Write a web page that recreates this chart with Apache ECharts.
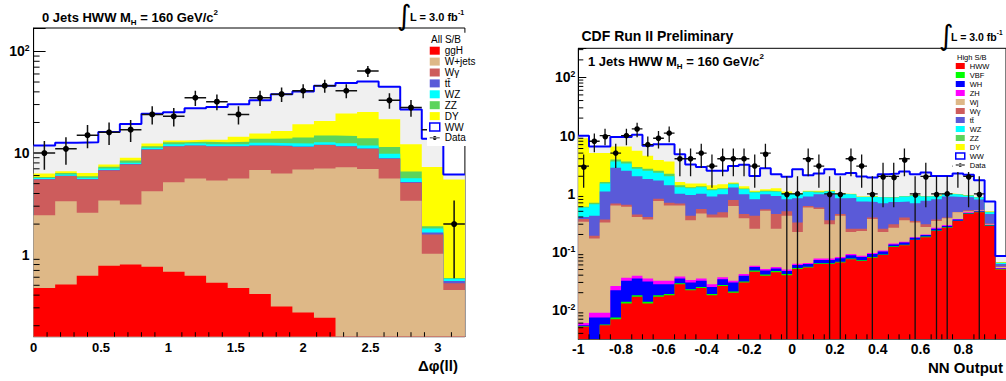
<!DOCTYPE html>
<html><head><meta charset="utf-8">
<script src="https://cdn.jsdelivr.net/npm/echarts@6.0.0/dist/echarts.min.js"></script>
<style>html,body{margin:0;padding:0;background:#fff;}#chart{width:1006px;height:381px;}</style>
</head><body><div id="chart"></div>
<script>
// ---------------- LEFT PANEL: 0 Jets, delta phi(ll) ----------------
const leftEdges = [0,0.16,0.32,0.48,0.64,0.8,0.96,1.12,1.28,1.44,1.6,1.76,1.92,2.08,2.24,2.4,2.56,2.72,2.88,3.04,3.2];
const L_ggH   = [0.47,0.51,0.62,0.78,0.80,0.76,0.68,0.62,0.53,0.47,0.41,0.31,0.27,0.24,0.12,0.10,0.08,0.05,0.02,0.01];
const L_Wjets = [1.97,2.85,1.96,2.63,2.31,3.46,4.49,5.00,4.84,5.15,6.39,5.99,6.63,6.82,7.15,6.85,5.54,3.35,1.00,0.44];
const L_Wg    = [3.06,2.57,2.92,3.33,4.62,6.58,6.43,6.18,6.23,5.98,5.00,5.40,4.60,4.94,4.33,4.05,3.18,1.70,0.56,0.075];
const L_tt    = [0.05,0.05,0.05,0.06,0.07,0.1,0.1,0.1,0.1,0.1,0.1,0.1,0.1,0.1,0.1,0.1,0.1,0.1,0.07,0.025];
const L_WZ    = [0.12,0.17,0.15,0.25,0.25,0.4,0.5,0.5,0.5,0.5,0.7,0.7,0.8,0.7,0.8,0.8,0.94,0.45,0.16,0.03];
const L_ZZ    = [0.15,0.2,0.2,0.3,0.4,0.4,0.6,0.5,0.6,0.7,1.2,1.4,1.8,2.1,2.2,2.1,1.66,0.92,0.10,0.01];
const L_DY    = [0.48,0.29,0.45,0.38,0.55,0.7,0.5,0.6,0.7,1.6,1.8,2.6,5.0,5.8,9.8,11.4,10.0,5.63,5.39,4.91];
const L_WW    = [5.6,5.96,6.45,8.37,10.3,12.0,11.9,14.1,14.9,15.7,17.4,21.4,21.1,25.2,24.3,25.2,23.4,14.7,6.5,0.66];
const L_data  = [10,11,15,16,17,24,23,35,32,24,35,38,41,46,41,64,33,28,17,2];

// ---------------- RIGHT PANEL: 1 Jets, NN output ----------------
const rightEdges = [-1,-0.95,-0.9,-0.85,-0.8,-0.75,-0.7,-0.65,-0.6,-0.55,-0.5,-0.45,-0.4,-0.35,-0.3,-0.25,-0.2,-0.15,-0.1,-0.05,0,0.05,0.1,0.15,0.2,0.25,0.3,0.35,0.4,0.45,0.5,0.55,0.6,0.65,0.7,0.75,0.8,0.85,0.9,0.95,1];
const R_HWW = [.0052,.002,.0055,.007,.013,.017,.013,.017,.018,.028,.022,.024,.018,.026,.020,.030,.046,.039,.045,.040,.051,.054,.062,.062,.066,.075,.070,.080,.089,.122,.13,.16,.18,.23,.26,.34,.45,.48,.28,.050];
const R_VBF = [.0001,.0001,.0002,.0005,.001,.001,.001,.001,.001,.001,.001,.001,.001,.001,.001,.001,.002,.002,.002,.002,.002,.002,.002,.002,.002,.002,.002,.002,.002,.003,.003,.003,.004,.005,.005,.005,.01,.01,.005,.001];
const R_WH  = [.0002,.0054,.0018,.0145,.018,.017,.017,.010,.009,.006,.007,.007,.006,.007,.009,.008,.007,.007,.005,.005,.007,.006,.009,.009,.010,.011,.010,.010,.011,.010,.012,.012,.011,.015,.015,.015,.01,.01,.005,.001];
const R_ZH  = [.0005,.0015,.0015,.004,.004,.004,.004,.004,.004,.003,.003,.003,.003,.003,.002,.003,.003,.003,.003,.003,.003,.003,.004,.004,.004,.004,.004,.004,.004,.005,.005,.005,.005,.01,.01,.01,.01,.01,.005,.001];
const R_Wj  = [.324,.161,.311,.604,.564,.361,.325,.718,.598,.592,.317,.425,.362,.353,.588,.338,.192,.459,.195,.37,.157,.515,.473,.223,.338,.128,.144,.274,.114,.12,.2,.14,.07,.08,.09,.11,.02,.01,.005,.002];
const R_Wg  = [.04,.02,.04,.05,.05,.04,.04,.07,.07,.05,.07,.09,.05,.09,.16,.07,.17,.03,.2,.08,.1,.04,.03,.05,.03,.03,.02,.02,.03,.04,.04,.02,.03,.02,.01,.005,.02,.01,.01,.002];
const R_tt  = [.03,.23,.74,2.12,1.85,1.56,1.4,.88,.7,.32,.53,.45,.46,.5,.5,.53,.39,.44,.47,.31,.52,.28,.4,.63,.39,.6,.49,.33,.44,.42,.35,.35,.46,.45,.51,.40,.35,.27,.14,.005];
const R_WZ  = [.18,.24,.4,.8,.8,.7,.7,.6,.6,.3,.3,.3,.25,.22,.18,.22,.24,.12,.16,.18,.15,.18,.07,.12,.15,.12,.14,.16,.17,.14,.16,.24,.14,.11,.09,.08,.06,.06,.03,.003];
const R_ZZ  = [.02,.04,.1,.3,.3,.2,.2,.2,.2,.1,.05,.05,.05,.05,.04,.03,.03,.03,.02,.03,.01,.02,.03,.02,.01,.01,.01,.02,.01,.01,.01,.01,.01,.01,.01,.01,.01,.01,.01,.001];
const R_DY  = [8.4,4.3,3.4,2.6,2.9,2.6,1.8,1.3,1.4,.2,.2,.15,.2,.21,.06,.12,.05,.07,.14,.07,.03,.03,.05,.04,.03,.02,.005,.02,.01,.01,.01,.01,.01,.01,.01,.01,.01,.01,.01,.001];
const R_WW  = [0.9,1.5,1.5,3.0,3.0,4.8,2.2,3.3,3.5,3.2,1.7,1.4,1.1,1.04,1.44,1.8,.9,1.56,.93,.87,1.62,.96,1.1,1.49,1.14,1.27,1.09,.98,1.29,1.35,1.5,1.22,1.4,1.09,1.02,1.25,1.17,.83,.24,.018];
const R_data = [3,8,10,5,10,13,7,9,11,4,4,5,3,4,4,4,3,5,0,1,1,4,3,1,1,4,3,1,2,2,4,1,2,1,1,3,2,1,0,0];

// ---------------- styling / layout ----------------
const FONT = '"Liberation Sans", Arial, Helvetica, sans-serif';
const C = {
  sig:'#ff0000', vbf:'#00ff00', wh:'#0000ff', zh:'#ff00ff',
  wjets:'#deb887', wg:'#cd5c5c', tt:'#5a5ad8', wz:'#00ffff', zz:'#5cd45c',
  dy:'#ffff00', ww:'#f0f0f0', wwLine:'#0000ff'
};
const LY = {min: 0.156, max: 170};
const RY = {min: Math.pow(10, -2.5), max: Math.pow(10, 2.5)};
const LX = {min: 0, max: 3.2};
const RX = {min: -1, max: 1};

function steps(edges, vals) {
  const d = vals.map((v, i) => [edges[i], v]);
  d.push([edges[edges.length - 1], vals[vals.length - 1]]);
  return d;
}
// cumulative stack (ROOT THStack style): each layer drawn from the axis bottom up to its running total
function cumulate(list) {
  const out = [];
  let run = list[0][1].map(() => 0);
  list.forEach(l => { run = run.map((v, i) => v + l[1][i]); out.push(run.slice()); });
  return out;
}
function layer(idx, name, cum, edges, fill, line) {
  return {
    type: 'line', name, xAxisIndex: idx, yAxisIndex: idx, step: 'end',
    data: steps(edges, cum), symbol: 'none', showSymbol: false, clip: true,
    lineStyle: line || {width: 0, color: fill}, itemStyle: {color: fill},
    areaStyle: {color: fill, opacity: 1, origin: 'start'}, silent: true, z: 2, animation: false
  };
}
function dataSeries(idx, vals, edges, yMin, lw, r) {
  const pts = [];
  vals.forEach((n, i) => { if (n > 0) pts.push([(edges[i] + edges[i + 1]) / 2, n, edges[i], edges[i + 1]]); });
  return {
    type: 'custom', name: 'Data', xAxisIndex: idx, yAxisIndex: idx, data: pts,
    encode: {x: 0, y: 1}, z: 6, clip: true, silent: true, animation: false,
    itemStyle: {color: '#000'},
    renderItem(params, api) {
      const x = api.value(0), n = api.value(1), xl = api.value(2), xr = api.value(3);
      const e = Math.sqrt(n);
      const lo = Math.max(n - e, yMin);
      const c = api.coord([x, n]);
      const pl = api.coord([xl, n]), pr = api.coord([xr, n]);
      const ph = api.coord([x, n + e]), pb = api.coord([x, lo]);
      return {type: 'group', children: [
        {type: 'line', shape: {x1: pl[0], y1: c[1], x2: pr[0], y2: c[1]}, style: {stroke: '#111', lineWidth: lw}},
        {type: 'line', shape: {x1: c[0], y1: ph[1], x2: c[0], y2: pb[1]}, style: {stroke: '#111', lineWidth: lw}},
        {type: 'circle', shape: {cx: c[0], cy: c[1], r: r}, style: {fill: '#000'}}
      ]};
    }
  };
}
function tickSeries(idx, xMin, yMin, xTicks, yTicks, lenX, lenY) {
  const d = xTicks.map(v => [v, yMin, 0]).concat(yTicks.map(v => [xMin, v, 1]));
  return {
    type: 'custom', xAxisIndex: idx, yAxisIndex: idx, data: d, encode: {x: 0, y: 1},
    z: 7, silent: true, clip: false, animation: false,
    renderItem(params, api) {
      const p = api.coord([api.value(0), api.value(1)]);
      const shape = api.value(2) === 0
        ? {x1: p[0], y1: p[1], x2: p[0], y2: p[1] - lenX}
        : {x1: p[0], y1: p[1], x2: p[0] + lenY, y2: p[1]};
      return {type: 'line', shape, style: {stroke: '#000', lineWidth: 1}};
    }
  };
}
function logMinor(min, max) {
  const out = [];
  for (let k = Math.floor(Math.log10(min)); k <= Math.ceil(Math.log10(max)); k++)
    for (let m = 2; m <= 9; m++) { const v = m * Math.pow(10, k); if (v > min && v < max) out.push(v); }
  return out;
}
function linMinor(min, max, step, major) {
  const out = [];
  const n = Math.round((max - min) / step);
  for (let i = 1; i < n; i++) {
    const v = +(min + i * step).toFixed(4);
    if (Math.abs(v / major - Math.round(v / major)) > 1e-6) out.push(v);
  }
  return out;
}
function logLabel(v) {
  const e = Math.log10(v), r = Math.round(e);
  if (Math.abs(e - r) > 1e-6) return '';
  if (r === 0) return '{n|1}';
  if (r === 1) return '{n|10}';
  return '{n|10}{s|' + r + '}';
}
function yAxisCfg(idx, ext, fs, tickLen, margin) {
  return {
    type: 'log', logBase: 10, gridIndex: idx, min: ext.min, max: ext.max,
    axisLine: {show: true, onZero: false, lineStyle: {color: '#000', width: 1}},
    axisTick: {show: true, inside: true, length: tickLen, lineStyle: {color: '#000', width: 1}},
    splitLine: {show: false}, minorTick: {show: false},
    axisLabel: {
      formatter: logLabel, margin: margin,
      rich: {
        n: {fontSize: fs, fontWeight: 'bold', fontFamily: FONT, color: '#000', lineHeight: fs + 2, verticalAlign: 'middle'},
        s: {fontSize: fs * 0.62, fontWeight: 'bold', fontFamily: FONT, color: '#000', lineHeight: fs * 0.62, verticalAlign: 'top'}
      }
    }
  };
}
function xAxisCfg(idx, ext, interval, fs, name, nameGap, margin) {
  return {
    type: 'value', gridIndex: idx, min: ext.min, max: ext.max, interval: interval,
    axisLine: {show: true, onZero: false, lineStyle: {color: '#000', width: 1}},
    axisTick: {show: true, inside: true, length: 9, lineStyle: {color: '#000', width: 1}},
    splitLine: {show: false},
    axisLabel: {color: '#000', fontWeight: 'bold', fontSize: fs, fontFamily: FONT, margin: margin, showMaxLabel: false},
    name: name, nameLocation: 'end', nameGap: nameGap,
    nameTextStyle: {color: '#000', fontWeight: 'bold', fontSize: 15, fontFamily: FONT, align: 'right', verticalAlign: 'top', padding: [21, 0, 0, 0]}
  };
}

const leftLayers = [
  ['ggH', L_ggH, C.sig], ['W+jets', L_Wjets, C.wjets], ['W\u03b3', L_Wg, C.wg], ['tt\u0304', L_tt, C.tt],
  ['WZ', L_WZ, C.wz], ['ZZ', L_ZZ, C.zz], ['DY', L_DY, C.dy], ['WW', L_WW, C.ww]
];
const rightLayers = [
  ['HWW', R_HWW, C.sig], ['VBF', R_VBF, C.vbf], ['WH', R_WH, C.wh], ['ZH', R_ZH, C.zh],
  ['Wj', R_Wj, C.wjets], ['W\u03b3', R_Wg, C.wg], ['tt\u0304', R_tt, C.tt], ['WZ', R_WZ, C.wz],
  ['ZZ', R_ZZ, C.zz], ['DY', R_DY, C.dy], ['WW', R_WW, C.ww]
];
const series = [];
function addPanel(idx, list, edges) {
  const cum = cumulate(list);
  // draw from the top of the stack (total) down, so lower layers paint over
  for (let k = list.length - 1; k >= 0; k--) {
    const isWW = list[k][0] === 'WW';
    series.push(layer(idx, list[k][0], cum[k], edges, list[k][2], isWW ? {width: 2, color: C.wwLine} : null));
  }
}
addPanel(0, leftLayers, leftEdges);
series.push(dataSeries(0, L_data, leftEdges, LY.min, 1.5, 3));
series.push(tickSeries(0, LX.min, LY.min, linMinor(0, 3.2, 0.1, 0.5), logMinor(LY.min, LY.max), 4.5, 6));
addPanel(1, rightLayers, rightEdges);
series.push(dataSeries(1, R_data, rightEdges, RY.min, 1.3, 2.8));
series.push(tickSeries(1, RX.min, RY.min, linMinor(-1, 1, 0.05, 0.2), logMinor(RY.min, RY.max), 5, 5));

function legendItems(list) {
  return list.filter(l => l[0] !== 'WW').map(l => ({name: l[0], icon: 'rect', itemStyle: {color: l[2], borderColor: l[2], borderWidth: 0}}))
    .concat([
      {name: 'WW', icon: 'rect', itemStyle: {color: '#ffffff', borderColor: C.wwLine, borderWidth: 1.5}},
      {name: 'Data', icon: 'path://M0,4.4h14v1.2h-14z M7,2.2a2.8,2.8 0 1,0 0.01,0z', itemStyle: {color: '#000', borderWidth: 0}}
    ]);
}

const sub = (fs) => ({fontSize: fs, fontWeight: 'bold', fontFamily: FONT, fill: '#000', lineHeight: fs, verticalAlign: 'bottom'});
const sup = (fs) => ({fontSize: fs, fontWeight: 'bold', fontFamily: FONT, fill: '#000', lineHeight: fs, verticalAlign: 'top'});
const main = (fs) => ({fontSize: fs, fontWeight: 'bold', fontFamily: FONT, fill: '#000', lineHeight: fs + 5, verticalAlign: 'middle'});

const option = {
  backgroundColor: '#ffffff',
  animation: false,
  grid: [
    {left: 33.6, top: 28, width: 431.3, height: 308.7, show: true, borderColor: '#000', borderWidth: 1, backgroundColor: 'transparent'},
    {left: 578.3, top: 48.3, width: 430, height: 291, show: true, borderColor: '#000', borderWidth: 1, backgroundColor: 'transparent'}
  ],
  xAxis: [
    xAxisCfg(0, LX, 0.5, 13, '\u0394\u03c6(ll)', -7, 4),
    xAxisCfg(1, RX, 0.2, 14, 'NN Output', -3, 3)
  ],
  yAxis: [
    yAxisCfg(0, LY, 14, 12, 4),
    yAxisCfg(1, RY, 14, 8, 3)
  ],
  legend: [
    {orient: 'vertical', left: 427, top: 32.7, padding: [13, 6, 3, 2], backgroundColor: '#fff',
     itemWidth: 10, itemHeight: 8, itemGap: 0.9, selectedMode: false, z: 20,
     textStyle: {fontSize: 10, fontFamily: FONT, color: '#000', lineHeight: 10},
     data: legendItems(leftLayers)},
    {orient: 'vertical', left: 953, top: 52, padding: [10, 4, 3, 2], backgroundColor: '#fff',
     itemWidth: 9, itemHeight: 6, itemGap: 1, selectedMode: false, z: 20,
     textStyle: {fontSize: 7.5, fontFamily: FONT, color: '#000', lineHeight: 7},
     data: legendItems(rightLayers)}
  ],
  graphic: [
    {type: 'text', x: 42, y: 17, z: 100, style: {text: '{a|0 Jets HWW M}{b|H}{a| = 160 GeV/c}{c|2}', rich: {a: main(13), b: sub(8), c: sup(8)}, verticalAlign: 'middle'}},
    {type: 'text', x: 397, y: 15, z: 100, style: {text: '\u222b', fontSize: 28, fontFamily: '"DejaVu Sans"', fill: '#000', verticalAlign: 'middle'}},
    {type: 'text', x: 410, y: 17, z: 100, style: {text: '{a|L = 3.0 fb}{c|-1}', rich: {a: main(11), c: sup(7)}, verticalAlign: 'middle'}},
    {type: 'text', x: 431, y: 39.5, z: 100, style: {text: 'All S/B', fontSize: 10, fontFamily: FONT, fill: '#000', verticalAlign: 'middle'}},
    {type: 'text', x: 581.5, y: 36, z: 100, style: {text: 'CDF Run II Preliminary', fontSize: 14, fontWeight: 'bold', fontFamily: FONT, fill: '#000', verticalAlign: 'middle'}},
    {type: 'text', x: 939, y: 35, z: 100, style: {text: '\u222b', fontSize: 28, fontFamily: '"DejaVu Sans"', fill: '#000', verticalAlign: 'middle'}},
    {type: 'text', x: 951, y: 37, z: 100, style: {text: '{a|L = 3.0 fb}{c|-1}', rich: {a: main(10.5), c: sup(6.5)}, verticalAlign: 'middle'}},
    {type: 'text', x: 588, y: 61, z: 100, style: {text: '{a|1 Jets HWW M}{b|H}{a| = 160 GeV/c}{c|2}', rich: {a: main(13), b: sub(8), c: sup(8)}, verticalAlign: 'middle'}},
    {type: 'text', x: 957, y: 57.5, z: 100, style: {text: 'High S/B', fontSize: 7.5, fontFamily: FONT, fill: '#000', verticalAlign: 'middle'}}
  ],
  series: series
};
const chart = echarts.init(document.getElementById('chart'), null, {renderer: 'svg', width: 1006, height: 381});
chart.setOption(option);
</script>
</body></html>
